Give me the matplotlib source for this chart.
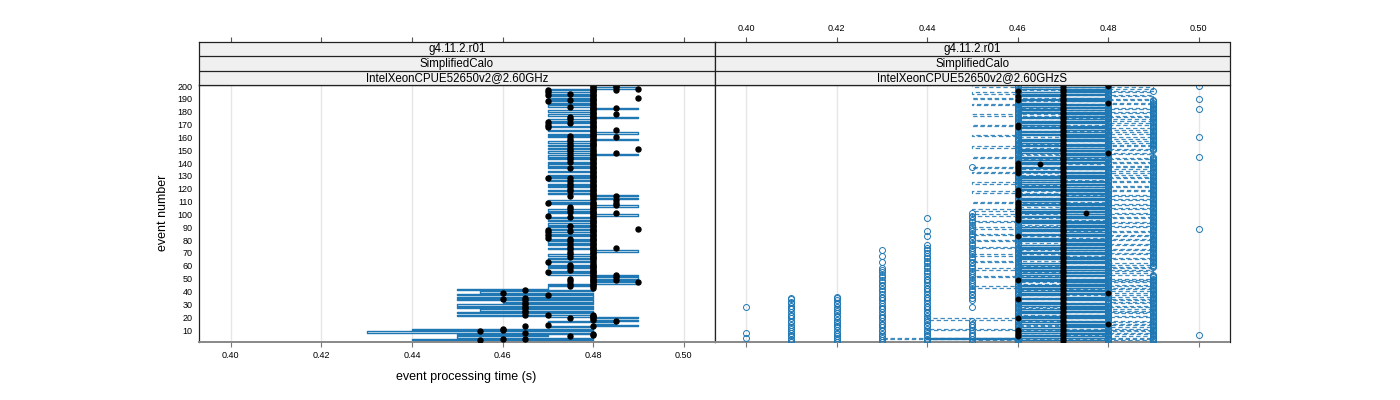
import matplotlib

matplotlib.use("Agg")

import matplotlib.pyplot as plt
import numpy as np
from matplotlib.ticker import FormatStrFormatter


OUTPUT_PATH = "out.png"
BLUE = "#1f78b4"
X_TICKS = [0.40, 0.42, 0.44, 0.46, 0.48, 0.50]
Y_TICKS = [10, 20, 30, 40, 50, 60, 70, 80, 90, 100, 110, 120, 130, 140, 150, 160, 170, 180, 190, 200]
STRIP_LABELS_LEFT = ["g4.11.2.r01", "SimplifiedCalo", "IntelXeonCPUE52650v2@2.60GHz"]
STRIP_LABELS_RIGHT = ["g4.11.2.r01", "SimplifiedCalo", "IntelXeonCPUE52650v2@2.60GHzS"]

# event processing time (ms) per event 1..200, left panel, joined by the solid line
left_line_ms = [
    430, 480, 440, 480, 450, 470, 450, 480, 430, 480, 440, 480,
    470, 490, 480, 485, 470, 490, 480, 490, 470,
    450, 480, 450, 480, 455, 480, 450, 480, 450, 480, 460, 480, 450, 480, 450, 480, 450, 480, 455, 480, 450, 470,
    470, 480, 470, 490, 480, 490, 480,
    490, 480, 490, 470, 480, 470, 480, 480, 470, 480,
    470, 480, 480, 470, 480, 470, 480, 480, 470, 480,
    480, 490, 480, 470, 480, 480, 470, 480, 470, 480,
    470, 480, 480, 470, 480, 470, 480, 480, 470, 480,
    470, 480, 470, 480, 480, 470, 480, 470, 480, 490,
    480, 470, 480, 470, 480, 480, 490, 480, 470, 480,
    470, 480, 490, 480, 490, 480, 470, 480, 470, 480,
    480, 470, 480, 470, 480, 480, 470, 480, 470, 480,
    470, 480, 480, 470, 480, 480, 470, 480, 470, 480,
    470, 480, 480, 470, 480, 470, 490, 480, 470, 480,
    480, 470, 480, 470, 480, 480, 470, 480, 490, 480,
    470, 480, 470, 490, 480, 470, 480, 480, 470, 480,
    480, 470, 480, 470, 480, 490, 480, 470, 480, 480,
    470, 480, 490, 480, 470, 480, 470, 480, 470, 480,
    470, 480, 470, 480, 470, 480, 480, 470, 490, 480,
]

# left panel dots: events (single numbers or first/last spans) at each time (ms)
left_dots_455 = [2, 9]
left_dots_460 = [3, 10, 11, 34, 39]
left_dots_465 = [3, 8, 13, 22, 24, 25, 27, 28, 30, 31, 33, 35, 41]
left_dots_470 = [14, 22, 37, 55, 63, 82, 84, 86, 88, 99, 109, 128, 168, 170, 172, 188, 193, 195, 197]
left_dots_475 = [5, 19, 44, 46, 48, 50, 57, 59, 61, 67, 69, 71, 73, 75, 77, 79, 81, 87, 91, 98, 102,
                 104, 106, 114, 118, 120, 122, 124, 126, 128, 136, 141, 143, 145, 147, 149, 151, 153,
                 155, 157, 159, 161, 171, 174, 176, 184, 189, 194]
left_dots_480 = [6, 7, 13, (18, 22), (43, 62), (64, 110), (112, 150), (152, 200)]
left_dots_485 = [17, 49, 51, 53, 74, 101, 107, 109, 111, 114, 148, 160, 166, 178, 183, 197, 199, 200]
left_dots_490 = [47, 89, 151, 191, 198]

# right panel, solid line (ms) per event 1..200
right_solid_ms = [
    470, 480, 460, 440, 480, 460, 470, 480, 460, 480,
    470, 460, 480, 470, 480, 460, 480, 470, 460, 480,
    460, 480, 470, 460, 480, 460, 480, 470, 480, 460,
    480, 460, 470, 480, 460, 480, 470, 460, 480, 460,
    480, 470, 460, 480, 460, 480, 470, 480, 460, 480,
    460, 470, 480, 460, 480, 470, 460, 480, 460, 480,
    470, 460, 480, 470, 480, 460, 480, 460, 470, 480,
    460, 480, 470, 460, 480, 460, 480, 470, 480, 460,
    480, 460, 470, 480, 460, 480, 470, 460, 480, 460,
    480, 470, 480, 460, 480, 460, 470, 480, 460, 480,
    470, 460, 480, 460, 480, 470, 480, 460, 480, 470,
    460, 480, 460, 480, 470, 460, 480, 470, 480, 460,
    480, 460, 470, 480, 460, 480, 470, 460, 480, 460,
    480, 470, 480, 460, 470, 480, 460, 480, 470, 460,
    480, 460, 480, 470, 460, 480, 470, 480, 460, 480,
    460, 470, 480, 460, 480, 470, 460, 480, 460, 480,
    470, 480, 460, 480, 460, 470, 480, 460, 480, 470,
    460, 480, 460, 480, 470, 460, 480, 470, 480, 460,
    480, 460, 470, 480, 460, 480, 460, 470, 480, 460,
    480, 470, 460, 480, 460, 480, 470, 480, 460, 480,
]

# right panel, dashed line (ms) per event 1..200
right_dashed_ms = [
    500, 450, 490, 430, 490, 460, 480, 490, 460, 490,
    440, 490, 480, 460, 490, 480, 490, 460, 440, 480,
    490, 460, 480, 490, 460, 490, 480, 460, 490, 480,
    460, 490, 480, 490, 460, 480, 490, 460, 480, 490,
    480, 460, 490, 450, 490, 480, 460, 490, 480, 490,
    460, 450, 480, 490, 460, 480, 490, 450, 490, 460,
    480, 490, 460, 450, 480, 490, 460, 480, 450, 490,
    480, 460, 490, 480, 450, 460, 490, 480, 460, 450,
    490, 480, 460, 490, 450, 480, 490, 460, 480, 450,
    490, 460, 480, 490, 450, 480, 460, 490, 480, 450,
    490, 480, 460, 450, 490, 480, 460, 490, 480, 450,
    480, 490, 460, 480, 490, 460, 480, 450, 490, 480,
    460, 490, 480, 460, 450, 490, 480, 460, 490, 480,
    460, 490, 450, 480, 490, 460, 450, 490, 480, 460,
    490, 480, 460, 490, 450, 480, 460, 490, 480, 460,
    490, 480, 450, 490, 460, 480, 490, 460, 480, 490,
    460, 450, 480, 490, 460, 480, 490, 460, 480, 450,
    490, 480, 460, 490, 480, 460, 490, 450, 480, 490,
    460, 480, 490, 460, 480, 450, 490, 480, 460, 490,
    450, 480, 490, 460, 450, 490, 480, 460, 490, 450,
]

# right panel open circles: events at each time (ms)
right_circles_400 = [4, 8, 28]
right_circles_410 = [1, 2, 3, 5, 6, 8, 9, 11, 12, 14, 16, 17, 19, 21, 22, 24, 26, 27, 29, 31, 32, 34, 35]
right_circles_420 = [1, 2, 4, 5, 7, 8, 10, 12, 13, 15, 16, 18, 20, 21, 23, 25, 26, 28, 30, 31, 33, 35, 36]
right_circles_430 = [1, 2, 4, 5, 7, 9, 10, 12, 14, 15, 17, 19, 20, 22, 24, 26, 27, 29, 31, 33, 35, 36,
                     38, 40, 42, 44, 45, 47, 49, 51, 53, 55, 57, 58, 63, 68, 72]
right_circles_440 = [1, 2, 3, 5, 6, 8, 9, 11, 13, 14, 16, 18, 19, 21, 23, 24, 26, 28, 29, 31, 33, 35,
                     36, 38, 40, 42, 43, 45, 47, 49, 50, 52, 54, 56, 58, 60, 62, 64, 66, 68, 70, 72,
                     74, 76, 83, 87, 97]
right_circles_450 = [1, 3, 5, 6, 8, 10, 12, 14, 15, 17, 28, 33, 35, 37, 38, 40, 42, 44, 46, 47, 49,
                     51, 53, 54, 56, 58, 60, 62, 63, 65, 67, 69, 71, 72, 74, 76, 78, 80, 81, 83, 85,
                     87, 89, 90, 92, 94, 96, 98, 99, 101, 137]
right_circles_460 = [(1, 40), (42, 75), (77, 120), (122, 160), (162, 200)]
right_circles_480 = [(1, 33), (35, 90), (92, 141), (143, 200)]
right_circles_490 = [(1, 53), (59, 145), (150, 189), 196]
right_circles_500 = [6, 89, 145, 160, 182, 190, 200]

# right panel black dots: events at each time (ms)
right_dots_460 = [5, 7, 9, 10, 19, 34, 49, 83, 96, 98, 100, 102, 104, 106, 108, 110, 115, 117, 119,
                  132, 134, 136, 138, 140, 168, 170, 189, 192, 196]
right_dots_465 = [139]
right_dots_470 = [(1, 200)]
right_dots_475 = [101]
right_dots_480 = [15, 39, 148, 187, 200]


def expand(spans):
    events = []
    for item in spans:
        if isinstance(item, tuple):
            events.extend(range(item[0], item[1] + 1))
        else:
            events.append(item)
    return events


def draw_points(axis, time_ms, spans, **style):
    events = expand(spans)
    axis.plot([time_ms / 1000] * len(events), events, linestyle="none", **style)


def style_panel(axis, show_x_labels, show_y_labels):
    axis.set_xlim(0.3930, 0.5068)
    axis.set_ylim(0.66, 200.78)
    axis.set_xticks(X_TICKS)
    axis.xaxis.set_major_formatter(FormatStrFormatter("%.2f"))
    axis.set_yticks(Y_TICKS)
    axis.grid(axis="x", color="#e6e6e6", linewidth=1.0, zorder=0)
    axis.set_axisbelow(True)
    axis.tick_params(axis="x", direction="out", length=3.8, width=0.8, color="#777777",
                     labelsize=6.5, pad=3, labelbottom=show_x_labels)
    axis.tick_params(axis="y", length=0, labelsize=6.5, pad=4.5, labelleft=show_y_labels)
    for side in ["left", "right", "top"]:
        axis.spines[side].set_color("#222222")
        axis.spines[side].set_linewidth(0.9)
    axis.spines["bottom"].set_color("#888888")
    axis.spines["bottom"].set_linewidth(1.4)


def draw_strip(axis, labels, show_top_labels):
    axis.set_xlim(0.3930, 0.5068)
    axis.set_ylim(0, 3)
    axis.set_facecolor("#f0f0f0")
    for level in [1, 2]:
        axis.axhline(level, color="#222222", linewidth=0.9)
    for level, text in zip([2.5, 1.5, 0.5], labels):
        axis.text(0.5, level, text, transform=axis.get_yaxis_transform(), ha="center", va="center",
                  fontsize=8.3)
    axis.set_yticks([])
    axis.set_xticks(X_TICKS)
    axis.xaxis.set_major_formatter(FormatStrFormatter("%.2f"))
    axis.xaxis.tick_top()
    axis.tick_params(axis="x", direction="out", length=3.8, width=0.8, color="#555555",
                     labelsize=6.5, pad=3, labeltop=show_top_labels, labelbottom=False)
    for spine in axis.spines.values():
        spine.set_color("#222222")
        spine.set_linewidth(0.9)


def main() -> None:
    plt.rcParams["font.family"] = ["Liberation Sans", "DejaVu Sans"]
    events = np.arange(1, 201)

    figure = plt.figure(figsize=(14, 4), dpi=100)
    left_axis = figure.add_axes([199 / 1400, 58 / 400, 515.5 / 1400, 257 / 400])
    right_axis = figure.add_axes([714.5 / 1400, 58 / 400, 515 / 1400, 257 / 400])
    left_strip = figure.add_axes([199 / 1400, 315 / 400, 515.5 / 1400, 43 / 400])
    right_strip = figure.add_axes([714.5 / 1400, 315 / 400, 515 / 1400, 43 / 400])

    # left panel: stepped line, then black points
    left_axis.plot(np.array(left_line_ms) / 1000, events, color=BLUE, linewidth=1.0,
                   drawstyle="steps-post", zorder=2)
    dot_style = dict(marker="o", markersize=3.6, color="black", zorder=3)
    for time_ms, spans in [
        (455, left_dots_455), (460, left_dots_460), (465, left_dots_465), (470, left_dots_470),
        (475, left_dots_475), (480, left_dots_480), (485, left_dots_485), (490, left_dots_490),
    ]:
        draw_points(left_axis, time_ms, spans, **dot_style)

    # right panel: dashed and solid stepped lines, open circles, black points
    right_axis.plot(np.array(right_dashed_ms) / 1000, events, color=BLUE, linewidth=0.9,
                    dashes=(3.5, 2.2), alpha=0.85, drawstyle="steps-post", zorder=2)
    right_axis.plot(np.array(right_solid_ms) / 1000, events, color=BLUE, linewidth=1.0,
                    drawstyle="steps-post", zorder=2)
    circle_style = dict(marker="o", markersize=4.3, markerfacecolor="none", markeredgecolor=BLUE,
                        markeredgewidth=0.7, zorder=3)
    for time_ms, spans in [
        (400, right_circles_400), (410, right_circles_410), (420, right_circles_420),
        (430, right_circles_430), (440, right_circles_440), (450, right_circles_450),
        (460, right_circles_460), (480, right_circles_480), (490, right_circles_490),
        (500, right_circles_500),
    ]:
        draw_points(right_axis, time_ms, spans, **circle_style)
    small_dot_style = dict(marker="o", markersize=3.2, color="black", zorder=4)
    for time_ms, spans in [
        (460, right_dots_460), (465, right_dots_465), (470, right_dots_470),
        (475, right_dots_475), (480, right_dots_480),
    ]:
        draw_points(right_axis, time_ms, spans, **small_dot_style)

    style_panel(left_axis, show_x_labels=True, show_y_labels=True)
    style_panel(right_axis, show_x_labels=False, show_y_labels=False)
    draw_strip(left_strip, STRIP_LABELS_LEFT, show_top_labels=False)
    draw_strip(right_strip, STRIP_LABELS_RIGHT, show_top_labels=True)

    figure.text(466 / 1400, 1 - 377 / 400, "event processing time (s)", ha="center", va="center",
                fontsize=9)
    figure.text(163 / 1400, 1 - 213 / 400, "event number", ha="center", va="center",
                rotation=90, fontsize=9)

    figure.savefig(OUTPUT_PATH, dpi=100)
    plt.close(figure)


if __name__ == "__main__":
    main()
